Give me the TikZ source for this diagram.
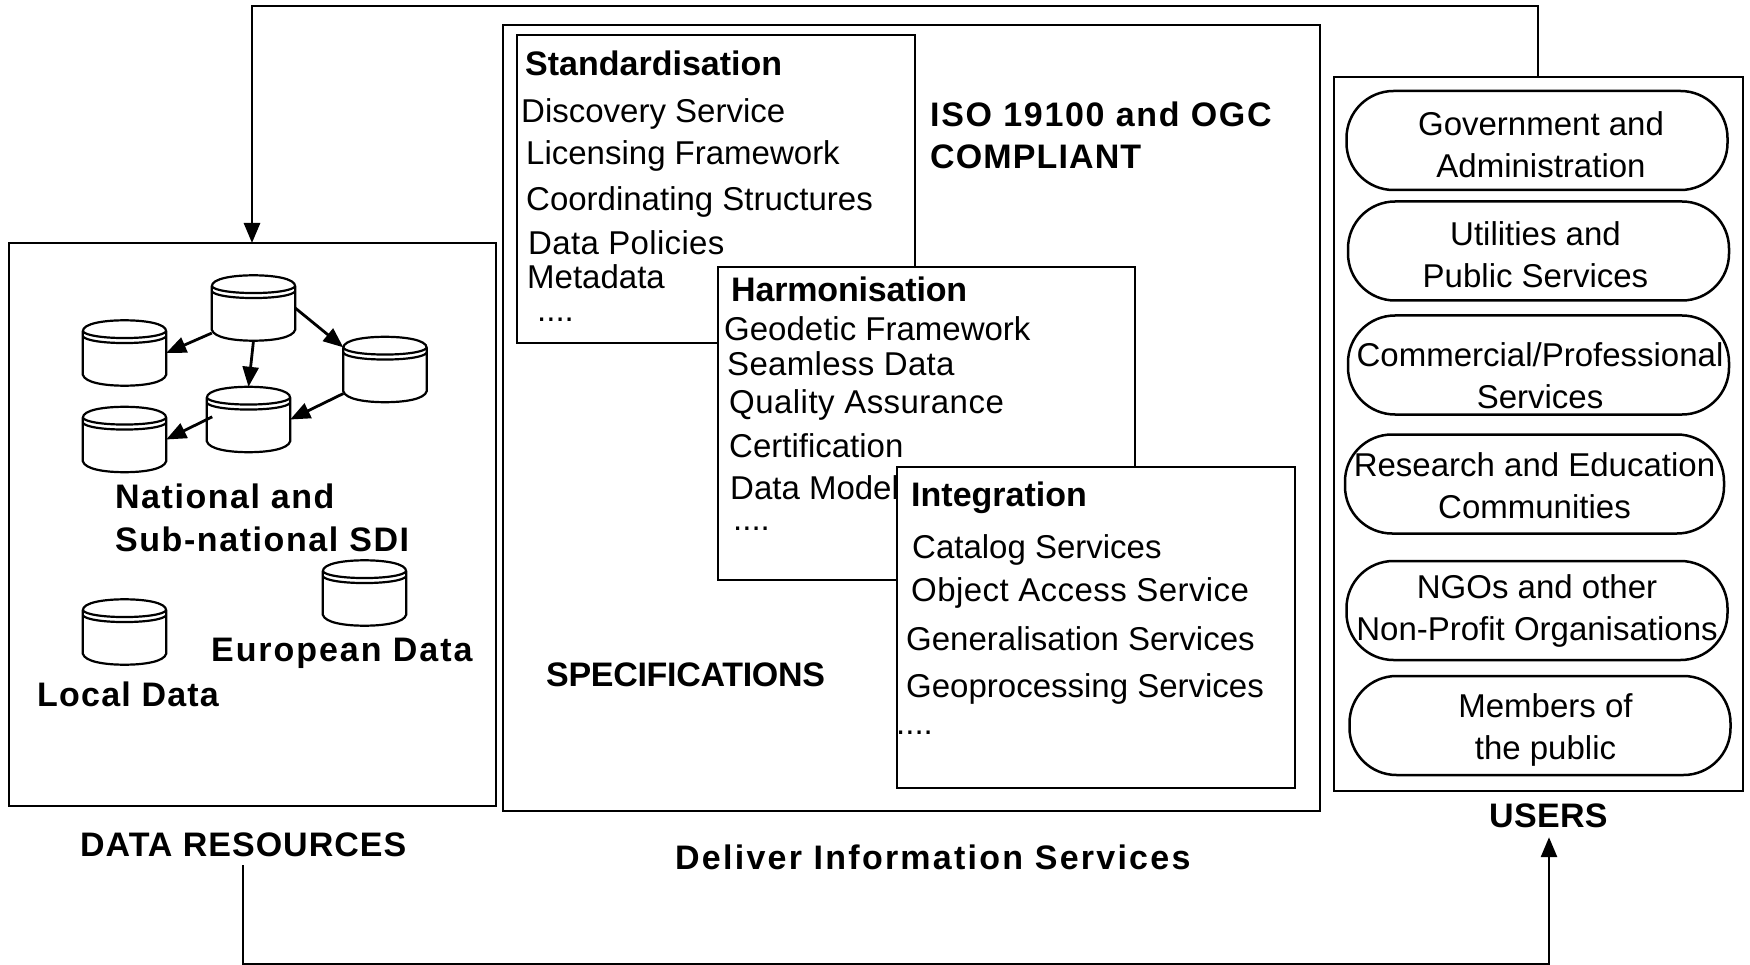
\documentclass[tikz,border=0pt]{standalone}
\usepackage{fontspec}
\setmainfont{Liberation Sans}
\usetikzlibrary{arrows.meta,calc}
\newcommand{\ls}[1]{\addfontfeature{LetterSpace=#1}}
\newcommand{\low}[1]{\rule{0pt}{#1pt}}
\tikzset{
  box/.style={draw=black,fill=white,line width=2.8pt,inner sep=0pt,outer sep=0pt,anchor=north west},
  lbl/.style={anchor=base west,inner sep=0pt,font=\fontsize{33}{40}\selectfont},
  blbl/.style={anchor=base west,inner sep=0pt,font=\fontsize{34}{40}\selectfont\bfseries},
  pill/.style={draw=black,line width=2.5pt,rounded corners=47pt,inner sep=0pt,minimum width=381pt,minimum height=99pt,align=center,font=\fontsize{33}{42}\selectfont},
  dbbox/.style={inner sep=0pt,minimum width=83pt,minimum height=65pt},
  conn/.style={line width=2.8pt,-{Triangle[length=20pt,width=16pt]}},
  line/.style={line width=2.5pt,line join=miter}
}
\newcommand{\dbcyl}[3]{%
  \node[dbbox] (#1) at (#2,#3) {};
  \draw[line,fill=white,line width=2.2pt] (#1.north west)++(0,11)
    -- ($(#1.south west)+(0,-11)$)
    .. controls ($(#1.south west)+(2,-3)$) and ($(#1.south west)+(22,0)$) .. (#1.south)
    .. controls ($(#1.south east)+(-22,0)$) and ($(#1.south east)+(-2,-3)$) .. ($(#1.south east)+(0,-11)$)
    -- ($(#1.north east)+(0,11)$)
    .. controls ($(#1.north east)+(0,3)$) and ($(#1.north east)+(-22,0)$) .. (#1.north)
    .. controls ($(#1.north west)+(22,0)$) and ($(#1.north west)+(0,3)$) .. ($(#1.north west)+(0,11)$) -- cycle;
  \draw[line width=2.2pt] ($(#1.north west)+(0,11)$)
    .. controls ($(#1.north west)+(6,20)$) and ($(#1.north east)+(-6,20)$) .. ($(#1.north east)+(0,11)$);
  \draw[line width=2.2pt] ($(#1.north west)+(0,16)$)
    .. controls ($(#1.north west)+(6,25)$) and ($(#1.north east)+(-6,25)$) .. ($(#1.north east)+(0,16)$);
}
\begin{document}
\begin{tikzpicture}[x=1pt,y=-1pt]
\useasboundingbox (0,0) rectangle (1750,965);
% Main frames
\node[box,minimum width=487pt,minimum height=563pt] (data) at (9,243) {};
\node[box,minimum width=817pt,minimum height=786pt] (deliver) at (503,25) {};
\node[box,minimum width=409pt,minimum height=714pt] (users) at (1334,77) {};
% Standardisation
\node[box,minimum width=398pt,minimum height=308pt] (std) at (517,35) {};
\node[blbl] (s0) at (525,76) {Standardisation};
\node[lbl] (s1) at (521,123) {Discovery Service};
\node[lbl] (s2) at (526,165) {Licensing Framework};
\node[lbl] (s3) at (526,211) {Coordinating Structures};
\node[lbl] (s4) at (528,255) {\ls{1}Data Policies};
\node[lbl] (s5) at (527,289) {Metadata};
\node[lbl] (s6) at (537,322) {....};
\node[blbl] (iso1) at (930,127) {\ls{5}ISO 19100 and OGC};
\node[blbl] (iso2) at (930,169) {\ls{3.3}COMPLIANT};
% Harmonisation
\node[box,minimum width=417pt,minimum height=313pt] (harm) at (718,267) {};
\node[blbl] (h0) at (731,302) {\ls{-0.5}Harmonisation};
\node[lbl] (h1) at (724,341) {Geodetic Framework};
\node[lbl] (h2) at (727,375) {\ls{1}Seamless Data};
\node[lbl] (h3) at (729,413) {\ls{1.4}Quality Assurance};
\node[lbl] (h4) at (729,457) {Certification};
\node[lbl] (h5) at (730,499) {Data Model};
\node[lbl] (h6) at (733,530) {....};
% Integration
\node[box,minimum width=398pt,minimum height=321pt] (integ) at (897,467) {};
\node[blbl] (i0) at (911,506) {Integration};
\node[lbl] (i1) at (912,558) {Catalog Services};
\node[lbl] (i2) at (911,601) {\ls{1.3}Object Access Service};
\node[lbl] (i3) at (906,650) {Generalisation Services};
\node[lbl] (i4) at (906,697) {Geoprocessing Services};
\node[lbl] (i5) at (896,734) {....};
\node[blbl] (spec) at (546,686) {\ls{-0.9}SPECIFICATIONS};
% Users
\node[pill] (p1) at (1537,140.5) {\low{33}\hspace*{8pt}Government and\\\hspace*{8pt}Administration};
\node[pill] (p2) at (1538.5,251) {\low{31}\hspace*{-6pt}Utilities and\\\hspace*{-6pt}Public Services};
\node[pill] (p3) at (1538.5,365) {\low{45}\hspace*{3pt}Commercial/Professional\\\hspace*{3pt}Services};
\node[pill,minimum width=379pt] (p4) at (1534.5,484) {\low{27}Research and Education\\Communities};
\node[pill] (p5) at (1537,610.5) {\low{25}NGOs and other\\Non-Profit Organisations};
\node[pill] (p6) at (1540,725.5) {\low{33}\hspace*{11pt}Members of\\\hspace*{11pt}the public};
% Databases
\dbcyl{c1}{253.5}{308}
\dbcyl{c2}{124.5}{353}
\dbcyl{c3}{385}{369.5}
\dbcyl{c4}{248.5}{419.5}
\dbcyl{c5}{124.5}{439.5}
\dbcyl{c6}{364.5}{593}
\dbcyl{c7}{124.5}{632}
\draw[conn] (c1.211) -- (c2.east);
\draw[conn] (c1.south) -- (c4.north);
\draw[conn] (c1.east) -- (c3.152);
\draw[conn] (c3.210) -- (c4.east);
\draw[conn,shorten <=-6pt] (c4.west) -- (c5.east);
\node[blbl] (n1) at (115,508) {\ls{4.5}National and};
\node[blbl] (n2) at (115,551) {\ls{4.6}Sub-national SDI};
\node[blbl] (eu) at (211,661) {\ls{5.7}European Data};
\node[blbl] (loc) at (37,706) {\ls{3.6}Local Data};
% Captions
\node[blbl,text depth=9pt] (drl) at (80,856) {\ls{2.9}DATA RESOURCES};
\node[blbl] (dis) at (675,869) {\ls{6.6}Deliver Information Services};
\node[blbl,text depth=10pt] (ul) at (1489,827) {\ls{1}USERS};
% Loop connectors
\coordinate (tr) at (1538,6);
\coordinate (tl) at (252,6);
\coordinate (bl) at (243,964);
\coordinate (br) at (1549,964);
\draw[conn] (tr |- users.north) -- (tr) -- (tl) -- (tl |- data.north);
\draw[conn] (bl |- drl.south) -- (bl) -- (br) -- (br |- ul.south);
\end{tikzpicture}
\end{document}
